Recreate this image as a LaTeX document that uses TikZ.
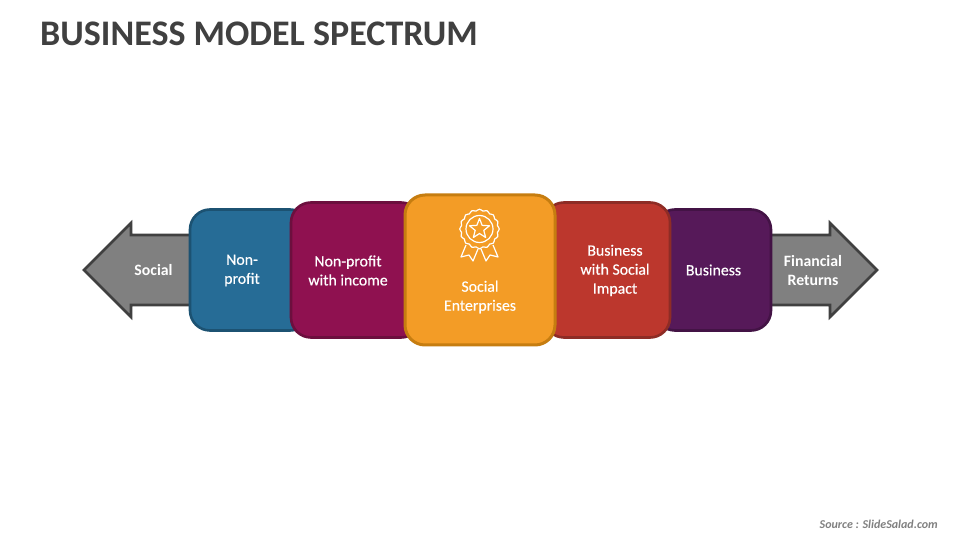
\documentclass[tikz,border=0pt]{standalone}
\usepackage{fontspec}
\setmainfont{Carlito}
\newfontfamily\lblfont[FakeBold=0.35]{Carlito}
\usetikzlibrary{shadows}
\definecolor{titlegray}{HTML}{404040}
\definecolor{arrowfill}{HTML}{808080}
\definecolor{arrowline}{HTML}{404040}
\definecolor{bluefill}{HTML}{266C96}
\definecolor{blueline}{HTML}{1C5272}
\definecolor{magfill}{HTML}{8F1150}
\definecolor{magline}{HTML}{6C0F3E}
\definecolor{orangefill}{HTML}{F39C26}
\definecolor{orangeline}{HTML}{C67D10}
\definecolor{redfill}{HTML}{BC372D}
\definecolor{redline}{HTML}{8E2C25}
\definecolor{purplefill}{HTML}{561959}
\definecolor{purpleline}{HTML}{431345}
\tikzset{
  card/.style={rectangle, rounded corners=20pt, line width=2.6pt, inner sep=0pt,
    drop shadow={shadow xshift=1pt, shadow yshift=-1pt, opacity=0.25}},
  lbl/.style={text=white, align=center, font=\lblfont\fontsize{15.8}{19}\selectfont, inner sep=0pt},
  boldlbl/.style={lbl, font=\fontsize{15.8}{19}\selectfont\bfseries},
  arrowshape/.style={fill=arrowfill, draw=arrowline, line width=2.6pt, line join=miter,
    drop shadow={shadow xshift=1pt, shadow yshift=-1pt, opacity=0.25}},
  icon/.style={draw=white, line width=1.2pt, line join=round}
}
\begin{document}
\begin{tikzpicture}[x=1pt, y=1pt]
  \useasboundingbox (0,0) rectangle (960,540);

  \node[font=\fontsize{36}{40}\selectfont\bfseries, text=titlegray, anchor=west, inner sep=0pt] (title) at (40,506) {BUSINESS MODEL SPECTRUM};

  % side arrows
  \draw[arrowshape] (195,305) -- (131,305) -- (131,317) -- (84,270) -- (131,223) -- (131,235) -- (195,235) -- cycle;
  \draw[arrowshape] (765,305) -- (830,305) -- (830,317) -- (877,270) -- (830,223) -- (830,235) -- (765,235) -- cycle;

  % cards, back to front
  \node[card, fill=bluefill, draw=blueline, minimum width=120pt, minimum height=121pt] (nonprofit) at (250,270) {};
  \node[card, fill=purplefill, draw=purpleline, minimum width=116pt, minimum height=121pt] (business) at (713,270) {};
  \node[card, fill=magfill, draw=magline, minimum width=130pt, minimum height=135pt] (income) at (356,270) {};
  \node[card, fill=redfill, draw=redline, minimum width=126pt, minimum height=135pt] (impact) at (607,270) {};
  \node[card, fill=orangefill, draw=orangeline, line width=3pt, minimum width=150pt, minimum height=150pt] (social) at (480,270) {};

  % labels
  \node[boldlbl] (lblsocial) at (153.5,270) {Social};
  \node[lbl] (lblnonprofit) at (242,269.5) {Non-\\profit};
  \node[lbl] (lblincome) at (348,269.5) {Non-profit\\with income};
  \node[lbl] (lblenterprises) at (480,243) {Social\\Enterprises};
  \node[lbl] (lblimpact) at (615,269.5) {Business\\with Social\\Impact};
  \node[lbl] (lblbusiness) at (713.5,270) {Business};
  \node[boldlbl] (lblreturns) at (813,269.5) {Financial\\Returns};

  % medal
  \draw[icon, fill=orangefill] (466,295) -- (461,283) -- (469,285) -- (473,279) -- (478,291);
  \draw[icon, fill=orangefill] (493,295) -- (498,283) -- (490,285) -- (486,279) -- (481,291);
  \begin{scope}[shift={(479.5,311)}]
    \draw[icon, fill=orangefill] plot[smooth cycle, samples=64, domain=0:354.375] (\x:{19+0.8*cos(16*\x)});
    \draw[icon] (0,0) circle (13.5);
    \draw[icon] (90:10.5) -- (54:4.5) -- (18:10.5) -- (-18:4.5) -- (-54:10.5) -- (-90:4.5) -- (-126:10.5) -- (-162:4.5) -- (162:10.5) -- (126:4.5) -- cycle;
  \end{scope}

  \node[anchor=east, inner sep=0pt, text=arrowfill, font=\fontsize{12}{14}\selectfont\bfseries\itshape] (source) at (938,16) {Source : SlideSalad.com};
\end{tikzpicture}
\end{document}
